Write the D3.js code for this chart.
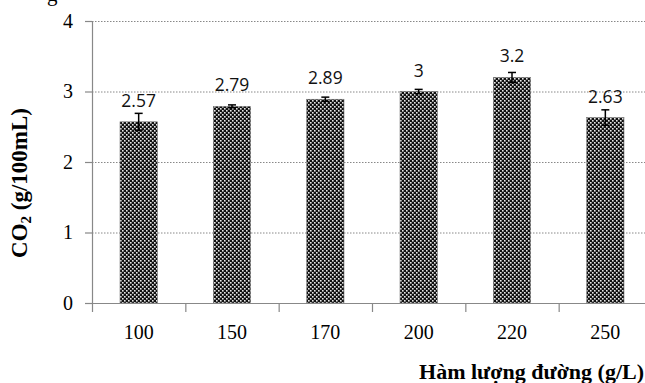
<!DOCTYPE html>
<html><head><meta charset="utf-8">
<script src="https://cdn.jsdelivr.net/npm/d3@7/dist/d3.min.js"></script>
<style>body{margin:0;background:#fff}svg{display:block}</style>
</head><body>
<svg id="c" width="645" height="383"></svg>
<script>
const categories = ["100","150","170","200","220","250"];
const values = [2.57, 2.79, 2.89, 3, 3.2, 2.63];
const errors = [0.12, 0.02, 0.03, 0.03, 0.07, 0.11];
const valueLabels = ["2.57","2.79","2.89","3","3.2","2.63"];
const yTicks = [0,1,2,3,4];

(function(){
const svg = d3.select("#c");
const mLeft = 92, mRight = 652, mTop = 21, mBottom = 303;

const defs = svg.append("defs");
const pat = defs.append("pattern").attr("id","dots").attr("patternUnits","userSpaceOnUse")
  .attr("width",4).attr("height",4);
pat.append("rect").attr("width",4).attr("height",4).attr("fill","#111");
pat.append("rect").attr("x",0).attr("y",0).attr("width",1.6).attr("height",1.6).attr("fill","#e8e8e8");
pat.append("rect").attr("x",2).attr("y",2).attr("width",1.6).attr("height",1.6).attr("fill","#e8e8e8");

const x = d3.scaleBand().domain(categories).range([mLeft,mRight]).paddingInner(0.6).paddingOuter(0.3);
const y = d3.scaleLinear().domain([0,4]).range([mBottom, mTop]);

// gridlines
svg.append("g").selectAll("line").data(yTicks.filter(d=>d>0)).join("line")
  .attr("x1",mLeft).attr("x2",645).attr("y1",d=>y(d)+0.5).attr("y2",d=>y(d)+0.5)
  .attr("stroke","#888").attr("stroke-width",1).attr("stroke-dasharray","1.5,1.5");

// y axis
svg.append("line").attr("x1",mLeft+0.5).attr("x2",mLeft+0.5).attr("y1",y(4)).attr("y2",y(0)+1)
  .attr("stroke","#888").attr("stroke-width",1.2);
svg.append("g").selectAll("line").data(yTicks).join("line")
  .attr("x1",mLeft-7).attr("x2",mLeft).attr("y1",d=>y(d)+0.5).attr("y2",d=>y(d)+0.5)
  .attr("stroke","#888").attr("stroke-width",1.2);
svg.append("g").selectAll("text").data(yTicks).join("text")
  .attr("x",73).attr("y",d=>y(d)+6.5).attr("text-anchor","end")
  .attr("font-family","Liberation Serif").attr("font-size",20).attr("fill","#000")
  .text(d=>d);

// bars
svg.append("g").selectAll("rect").data(values).join("rect")
  .attr("x",(d,i)=>x(categories[i])).attr("width",x.bandwidth())
  .attr("y",d=>y(d)).attr("height",d=>y(0)-y(d))
  .attr("fill","url(#dots)").attr("stroke","#777").attr("stroke-width",0.6);

// error bars
const eb = svg.append("g").attr("stroke","#000").attr("stroke-width",1.5);
values.forEach((v,i)=>{
  const cx = x(categories[i]) + x.bandwidth()/2;
  eb.append("line").attr("x1",cx).attr("x2",cx).attr("y1",y(v+errors[i])).attr("y2",y(v-errors[i]));
  eb.append("line").attr("x1",cx-4).attr("x2",cx+4).attr("y1",y(v+errors[i])).attr("y2",y(v+errors[i]));
  eb.append("line").attr("x1",cx-4).attr("x2",cx+4).attr("y1",y(v-errors[i])).attr("y2",y(v-errors[i]));
});

// value labels
svg.append("g").selectAll("text").data(values).join("text")
  .attr("x",(d,i)=>x(categories[i])+x.bandwidth()/2).attr("y",d=>y(d)-15)
  .attr("text-anchor","middle").attr("font-family","Open Sans").attr("font-size",17.5).attr("fill","#111")
  .text((d,i)=>valueLabels[i]);

// x axis
svg.append("line").attr("x1",mLeft-7).attr("x2",645).attr("y1",mBottom+0.5).attr("y2",mBottom+0.5)
  .attr("stroke","#888").attr("stroke-width",1.2);
const step = x.step();
const bounds = d3.range(categories.length+1).map(i=>mLeft+i*step);
svg.append("g").selectAll("line").data(bounds).join("line")
  .attr("x1",d=>d+0.5).attr("x2",d=>d+0.5).attr("y1",mBottom).attr("y2",mBottom+9)
  .attr("stroke","#888").attr("stroke-width",1.2);
svg.append("g").selectAll("text").data(categories).join("text")
  .attr("x",d=>x(d)+x.bandwidth()/2).attr("y",339).attr("text-anchor","middle")
  .attr("font-family","Liberation Serif").attr("font-size",20).attr("fill","#000")
  .text(d=>d);

// axis titles
const yt = svg.append("text").attr("transform","translate(27,183) rotate(-90)")
  .attr("text-anchor","middle").attr("font-family","Liberation Serif").attr("font-weight","bold")
  .attr("font-size",23).attr("fill","#000");
yt.append("tspan").text("CO");
yt.append("tspan").attr("font-size",15).attr("dy",4).text("2");
yt.append("tspan").attr("dy",-4).text(" (g/100mL)");

svg.append("text").attr("x",644).attr("y",379).attr("text-anchor","end")
  .attr("font-family","Liberation Serif").attr("font-weight","bold").attr("font-size",22).attr("fill","#000")
  .text("Hàm lượng đường (g/L)");

// clipped text fragment at top
svg.append("text").attr("x",47).attr("y",1).attr("font-family","Liberation Serif")
  .attr("font-size",21).attr("fill","#000").text("g");
})();
</script>
</body></html>
